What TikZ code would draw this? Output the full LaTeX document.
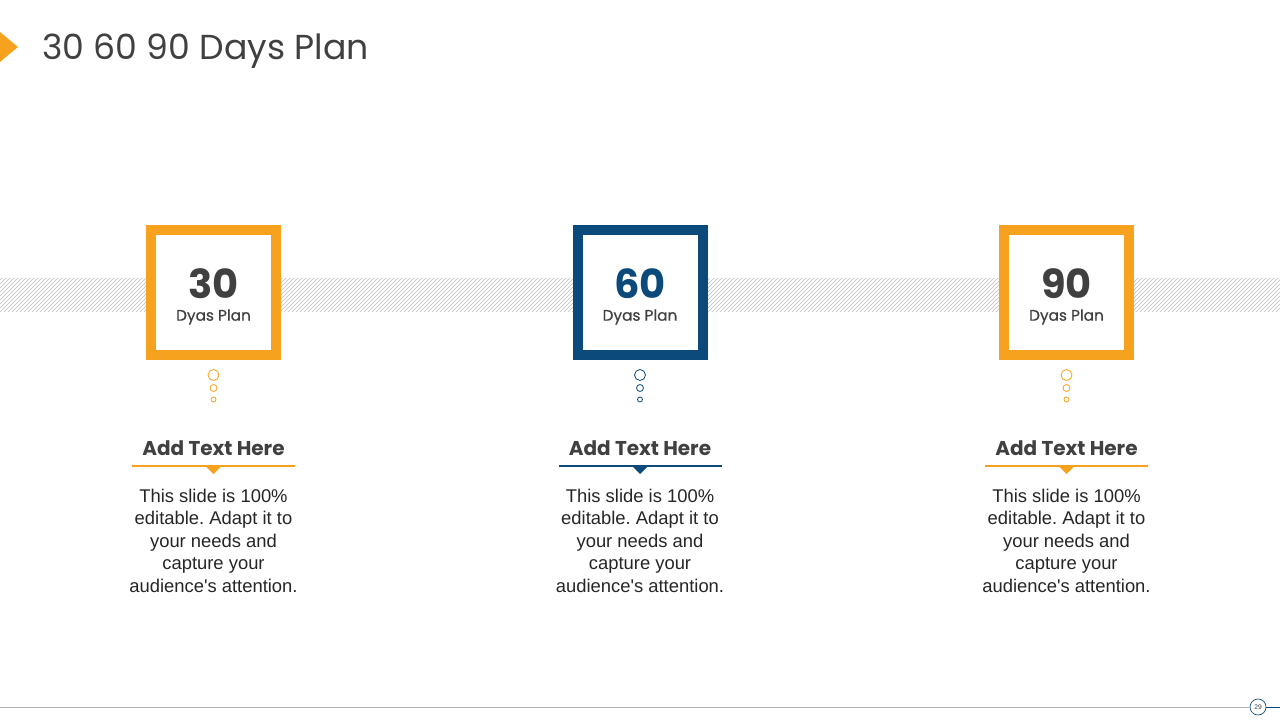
\documentclass[tikz,border=0pt]{standalone}
\usepackage{fontspec}
\setmainfont{Liberation Sans}[Ligatures=TeXOff]
\newfontfamily\headfont{Poppins}
\newfontfamily\subfont{Poppins}[FakeBold=0.5]
\usetikzlibrary{patterns}
\definecolor{planorange}{HTML}{F7A21E}
\definecolor{planblue}{HTML}{0B4A7A}
\definecolor{plangray}{HTML}{404040}
\frenchspacing
\begin{document}
\begin{tikzpicture}[x=0.75pt,y=-0.75pt]
	      \tikzstyle{every node}=[text=plangray]
	      \tikzstyle{plan box}=[line width=7.5pt,fill=white,minimum size=93.75pt,inner sep=0pt]
	      \tikzstyle{plan num}=[inner sep=0pt,font=\headfont\bfseries\fontsize{30}{30}\selectfont]
	      \tikzstyle{plan sub}=[inner sep=0pt,font=\subfont\fontsize{11.5}{12}\selectfont]
	      \tikzstyle{plan head}=[font=\headfont\bfseries\fontsize{15}{16}\selectfont]
	      \tikzstyle{plan body}=[font=\fontsize{13.8}{16.9}\selectfont,align=center,anchor=north,text=black!85]
	      \useasboundingbox[fill=white](0,0) rectangle (1280,720);
	      % title
	      \fill[planorange](0,32)--(18,47)--(0,62)--cycle;
	      \node[anchor=base west,inner sep=0pt,font=\headfont\fontsize{26}{26}\selectfont](title) at (42,60){30 60 90 Days Plan};
	      % hatched band
	      \fill[pattern=north east lines,pattern color=black!25](0,278) rectangle (1280,311);
	      % 30
	      \node[plan box,draw=planorange](b30) at (213.5,292.5){};
	      \node[plan num](n30) at (213.5,284){30};
	      \node[plan sub](s30) at (213.5,317){Dyas Plan};
	      \draw[planorange,line width=0.6pt](213.5,375) circle (5.5) (213.5,388) circle (3.5) (213.5,399.5) circle (2.5);
	      \node[plan head](h30) at (213.5,448){Add Text Here};
	      \coordinate(l30a) at (132,466);
	      \coordinate(l30b) at (295,466);
	      \draw[planorange,line width=0.9pt](l30a)--(l30b);
	      \fill[planorange](206.5,467)--(220.5,467)--(213.5,474)--cycle;
	      \node[plan body](t30) at (213.5,484){This slide is 100\%\\editable. Adapt it to\\your needs and\\capture your\\audience's attention.};
	      % 60
	      \node[plan box,draw=planblue](b60) at (640,292.5){};
	      \node[plan num,text=planblue](n60) at (640,284){60};
	      \node[plan sub](s60) at (640,317){Dyas Plan};
	      \draw[planblue,line width=0.6pt](640,375) circle (5.5) (640,388) circle (3.5) (640,399.5) circle (2.5);
	      \node[plan head](h60) at (640,448){Add Text Here};
	      \coordinate(l60a) at (558.5,466);
	      \coordinate(l60b) at (721.5,466);
	      \draw[planblue,line width=0.9pt](l60a)--(l60b);
	      \fill[planblue](633,467)--(647,467)--(640,474)--cycle;
	      \node[plan body](t60) at (640,484){This slide is 100\%\\editable. Adapt it to\\your needs and\\capture your\\audience's attention.};
	      % 90
	      \node[plan box,draw=planorange](b90) at (1066.5,292.5){};
	      \node[plan num](n90) at (1066.5,284){90};
	      \node[plan sub](s90) at (1066.5,317){Dyas Plan};
	      \draw[planorange,line width=0.6pt](1066.5,375) circle (5.5) (1066.5,388) circle (3.5) (1066.5,399.5) circle (2.5);
	      \node[plan head](h90) at (1066.5,448){Add Text Here};
	      \coordinate(l90a) at (985,466);
	      \coordinate(l90b) at (1148,466);
	      \draw[planorange,line width=0.9pt](l90a)--(l90b);
	      \fill[planorange](1059.5,467)--(1073.5,467)--(1066.5,474)--cycle;
	      \node[plan body](t90) at (1066.5,484){This slide is 100\%\\editable. Adapt it to\\your needs and\\capture your\\audience's attention.};
	      % footer
	      \node[draw=planblue,circle,minimum size=12pt,inner sep=0pt,line width=0.5pt,font=\fontsize{5}{5}\selectfont](page) at (1258,707){29};
	      \coordinate(f0) at (0,707);
	      \coordinate(f1) at (1280,707);
	      \draw[black!30,line width=0.6pt](f0)--(page.west);
	      \draw[planblue,line width=0.6pt](page.east)--(f1);
	    \end{tikzpicture}
\end{document}
